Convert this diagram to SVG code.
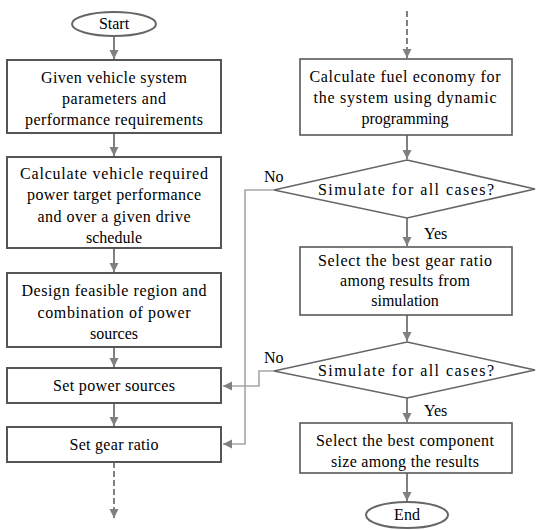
<svg xmlns="http://www.w3.org/2000/svg" width="536" height="530" viewBox="0 0 536 530">
<defs>
<style>
text{font-family:"Liberation Serif","Times New Roman",serif;font-size:16px;fill:#000;text-anchor:middle}
.lbl{text-anchor:start}
.boxL{fill:#fff;stroke:#555;stroke-width:2}
.boxR{fill:#fff;stroke:#595959;stroke-width:1.6}
.term{fill:#fff;stroke:#666;stroke-width:2}
.dia{fill:#fff;stroke:#666;stroke-width:1.6}
.flow{fill:none;stroke:#808080;stroke-width:2}
.dash{fill:none;stroke:#808080;stroke-width:2;stroke-dasharray:6 3}
.back{fill:none;stroke:#a6a6a6;stroke-width:1.6}
</style>
<marker id="ah" markerWidth="10" markerHeight="10" refX="9" refY="5" orient="auto" markerUnits="userSpaceOnUse">
<path d="M0,0.5 L9,5 L0,9.5 Z" fill="#808080"/>
</marker>
</defs>
<g id="connectors">
<line class="flow" x1="114" y1="36" x2="114" y2="59" marker-end="url(#ah)"/>
<line class="flow" x1="114" y1="133" x2="114" y2="156" marker-end="url(#ah)"/>
<line class="flow" x1="114" y1="248" x2="114" y2="272" marker-end="url(#ah)"/>
<line class="flow" x1="114" y1="347" x2="114" y2="367" marker-end="url(#ah)"/>
<line class="flow" x1="114" y1="403" x2="114" y2="426" marker-end="url(#ah)"/>
<line class="dash" x1="114" y1="462" x2="114" y2="518" marker-end="url(#ah)"/>
<line class="dash" x1="407" y1="11" x2="407" y2="58" marker-end="url(#ah)"/>
<line class="flow" x1="407" y1="135" x2="407" y2="159" marker-end="url(#ah)"/>
<line class="flow" x1="407" y1="218" x2="407" y2="246" marker-end="url(#ah)"/>
<line class="flow" x1="407" y1="315" x2="407" y2="341" marker-end="url(#ah)"/>
<line class="flow" x1="407" y1="398" x2="407" y2="422" marker-end="url(#ah)"/>
<line class="flow" x1="407" y1="473" x2="407" y2="501" marker-end="url(#ah)"/>
<polyline class="back" points="274,190 245,190 245,444 223,444" marker-end="url(#ah)"/>
<polyline class="back" points="274,371 259,371 259,386 223,386" marker-end="url(#ah)"/>
</g>
<g id="start">
<ellipse class="term" cx="114" cy="24" rx="42" ry="12"/>
<text x="114" y="29">Start</text>
</g>
<g id="given">
<rect class="boxL" x="7" y="60" width="214" height="73"/>
<text x="114" y="83" textLength="146">Given vehicle system</text>
<text x="114" y="104" textLength="104">parameters and</text>
<text x="114" y="125" textLength="178">performance requirements</text>
</g>
<g id="calcpower">
<rect class="boxL" x="7" y="157" width="214" height="91"/>
<text x="114" y="179" textLength="188">Calculate vehicle required</text>
<text x="114" y="200" textLength="174">power target performance</text>
<text x="114" y="222" textLength="153">and over a given drive</text>
<text x="114" y="243">schedule</text>
</g>
<g id="design">
<rect class="boxL" x="7" y="273" width="214" height="74"/>
<text x="114" y="296" textLength="185">Design feasible region and</text>
<text x="114" y="318" textLength="153">combination of power</text>
<text x="114" y="339">sources</text>
</g>
<g id="setpower">
<rect class="boxL" x="7" y="368" width="214" height="35"/>
<text x="114" y="391" textLength="122">Set power sources</text>
</g>
<g id="setgear">
<rect class="boxL" x="7" y="427" width="214" height="35"/>
<text x="114" y="450" textLength="89">Set gear ratio</text>
</g>
<g id="fuel">
<rect class="boxR" x="300" y="59" width="212" height="76"/>
<text x="405" y="82" textLength="191">Calculate fuel economy for</text>
<text x="405" y="103" textLength="183">the system using dynamic</text>
<text x="405" y="124">programming</text>
</g>
<g id="decision1">
<polygon class="dia" points="407,160 535,189 407,218 274,190"/>
<text x="406" y="195" textLength="176">Simulate for all cases?</text>
<text class="lbl" x="264" y="182">No</text>
<text class="lbl" x="424" y="239">Yes</text>
</g>
<g id="bestgear">
<rect class="boxR" x="300" y="247" width="212" height="68"/>
<text x="405" y="266" textLength="174">Select the best gear ratio</text>
<text x="405" y="286" textLength="130">among results from</text>
<text x="405" y="306">simulation</text>
</g>
<g id="decision2">
<polygon class="dia" points="407,342 535,370 407,398 274,371"/>
<text x="406" y="376" textLength="176">Simulate for all cases?</text>
<text class="lbl" x="264" y="363">No</text>
<text class="lbl" x="424" y="416">Yes</text>
</g>
<g id="bestcomp">
<rect class="boxR" x="300" y="423" width="212" height="50"/>
<text x="405" y="446" textLength="178">Select the best component</text>
<text x="405" y="467" textLength="148">size among the results</text>
</g>
<g id="end">
<ellipse class="term" cx="407" cy="515" rx="41" ry="13"/>
<text x="407" y="520">End</text>
</g>
</svg>
